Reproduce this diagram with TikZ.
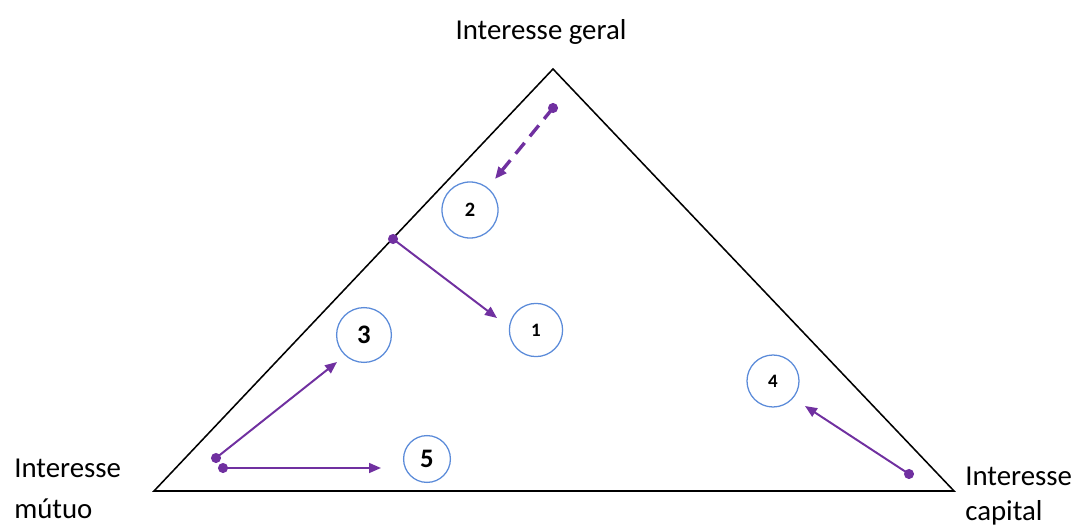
\documentclass[tikz,border=0pt]{standalone}
\usepackage{fontspec}
\setmainfont{Carlito}
\usetikzlibrary{arrows.meta}
\definecolor{vio}{HTML}{7030A0}
\definecolor{ring}{HTML}{5B8BD9}

\begin{document}
\begin{tikzpicture}[x=0.025cm, y=-0.025cm,
  lbl/.style={font=\fontsize{20.5}{29}\selectfont, align=left, inner sep=0pt},
  num/.style={circle, draw=ring, line width=0.9pt, inner sep=0pt, font=\bfseries},
  arr/.style={vio, line width=1.4pt, -{Triangle[length=8.5pt, width=7pt]}},
  dot/.style={fill=vio, draw=none}]
\useasboundingbox (0,0) rectangle (1078,525);
% triangle
\coordinate (top) at (553,69);
\coordinate (bl) at (154,491);
\coordinate (br) at (954,491);
\draw[line width=1.1pt, line join=miter] (top) -- (bl) -- (br) -- cycle;
\node[lbl] (geral) at (541,32) {Interesse geral};
\node[lbl, anchor=north west] (mutuo) at (14,459) {Interesse\\mútuo};
\node[lbl, anchor=north west, font=\fontsize{20.5}{25}\selectfont] (capital) at (965,467) {Interesse\\capital};
% circles
\node[num, minimum size=1.33cm, font=\bfseries\fontsize{13.5}{16}\selectfont] (c1) at (536,330) {1};
\node[num, minimum size=1.4cm, font=\bfseries\fontsize{14.5}{17}\selectfont] (c2) at (470,210) {2};
\node[num, minimum size=1.37cm, font=\bfseries\fontsize{19}{22}\selectfont] (c3) at (364,335) {3};
\node[num, minimum size=1.3cm, font=\bfseries\fontsize{13.5}{16}\selectfont] (c4) at (773,381) {4};
\node[num, minimum size=1.17cm, font=\bfseries\fontsize{19}{22}\selectfont] (c5) at (427,459) {5};
% arrows
\coordinate (s2) at (553,108); \coordinate (e2) at (495,179);
\coordinate (s1) at (393,239); \coordinate (e1) at (497,318);
\coordinate (s3) at (216,458); \coordinate (e3) at (337,362);
\coordinate (s5) at (223,468); \coordinate (e5) at (381,468);
\coordinate (s4) at (909,474); \coordinate (e4) at (805,406);
\draw[arr, line width=2.4pt, dash pattern=on 10pt off 6pt] (s2) -- (e2);
\draw[arr] (s1) -- (e1);
\draw[arr] (s3) -- (e3);
\draw[arr] (s5) -- (e5);
\draw[arr] (s4) -- (e4);
\foreach \p in {s1,s2,s3,s4,s5}
  \fill[dot] (\p) circle (3.6pt);
\end{tikzpicture}
\end{document}
